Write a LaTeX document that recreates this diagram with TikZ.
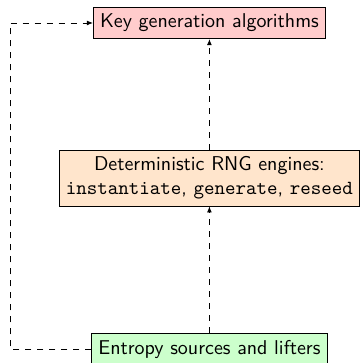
\documentclass[tikz,border=0pt]{standalone}
\usetikzlibrary{arrows.meta}

\begin{document}
\begin{tikzpicture}[
    font = \sffamily,
    stagebox/.style = {draw, thin, align = center},
    feed/.style = {-{Latex[length = 3pt, width = 2.4pt]}, dashed, thin}
  ]
  \useasboundingbox (0, 0) rectangle (6.344, 6.379);

  \node[stagebox, fill = red!20] (keygen) at (3.68, 5.975)
    {Key generation algorithms};
  \node[stagebox, fill = orange!20] (drbg) at (3.68, 3.251)
    {Deterministic RNG engines:\\
     \texttt{instantiate}, \texttt{generate}, \texttt{reseed}};
  \node[stagebox, fill = green!20] (entropy) at (3.68, 0.245)
    {Entropy sources and lifters};

  \coordinate (bend) at (0.176, 0);

  \draw[feed] (entropy) -- (drbg);
  \draw[feed] (drbg) -- (keygen);
  \draw[feed] (entropy.west) -- (entropy.west -| bend)
    |- (keygen.west);
\end{tikzpicture}
\end{document}
